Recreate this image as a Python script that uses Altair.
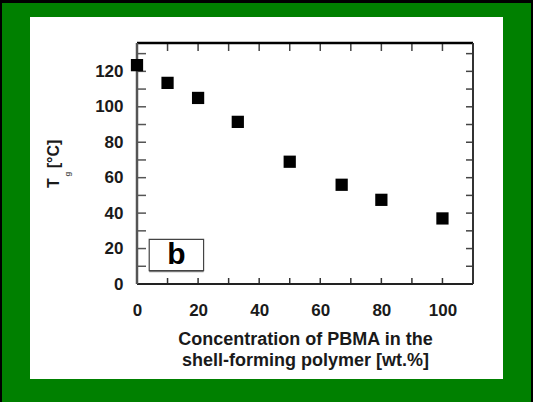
import altair as alt
import pandas as pd

# data
pbma = [0, 10, 20, 33, 50, 67, 80, 100]
tg = [123.5, 113.5, 105, 91.5, 69, 56, 47.5, 37]

x_ticks = [10, 20, 30, 40, 50, 60, 70, 80, 90, 100]
y_ticks = [10, 20, 30, 40, 50, 60, 70, 80, 90, 100, 110, 120, 130]
x_labels = [0, 20, 40, 60, 80, 100]
y_labels = [0, 20, 40, 60, 80, 100, 120]

box_x = [4.0]
box_x2 = [21.8]
box_y = [25.2]
box_y2 = [7.5]

W, H = 336, 241
FONT = "Liberation Sans"

pts = pd.DataFrame({"x": pbma, "y": tg})
xt = pd.DataFrame({"x": x_ticks})
yt = pd.DataFrame({"y": y_ticks})
box = pd.DataFrame({"x": box_x, "x2": box_x2, "y": box_y, "y2": box_y2})
one = pd.DataFrame({"a": [0]})

xs = alt.Scale(domain=[0, 110], nice=False, zero=False)
ys = alt.Scale(domain=[0, 136], nice=False, zero=False)

xaxis = alt.Axis(values=x_labels, ticks=False, tickSize=0, domain=False, grid=False,
                 labelFont=FONT, labelFontSize=17, labelFontWeight="bold", labelColor="#1a1a1a",
                 labelPadding=18, labelFlush=False, zindex=1,
                 title=["Concentration of PBMA in the", "shell-forming polymer [wt.%]"],
                 titleFont=FONT, titleFontSize=18, titleFontWeight="bold", titleColor="#1a1a1a",
                 titleLineHeight=21, titlePadding=12)
yaxis = alt.Axis(values=y_labels, ticks=False, tickSize=0, domain=False, grid=False,
                 labelFont=FONT, labelFontSize=17, labelFontWeight="bold", labelColor="#1a1a1a",
                 labelPadding=14, labelFlush=False, zindex=1, title=None)

# panel decoration: white card + black edge of the figure
white = alt.Chart(one).mark_rect(color="white").encode(
    x=alt.value(-107), x2=alt.value(366), y=alt.value(-26), y2=alt.value(336))
edge_l = alt.Chart(one).mark_rect(color="black").encode(
    x=alt.value(-137), x2=alt.value(-135), y=alt.value(-43), y2=alt.value(359))
edge_t = alt.Chart(one).mark_rect(color="black").encode(
    x=alt.value(-137), x2=alt.value(396), y=alt.value(-43), y2=alt.value(-40))
edge_r = alt.Chart(one).mark_rect(color="black").encode(
    x=alt.value(394), x2=alt.value(396), y=alt.value(-43), y2=alt.value(359))

points = alt.Chart(pts).mark_square(size=150, color="black", opacity=1).encode(
    x=alt.X("x:Q", scale=xs, axis=xaxis),
    y=alt.Y("y:Q", scale=ys, axis=yaxis))

tb = alt.Chart(xt).mark_rule(color="#333", strokeWidth=1.5).encode(
    x=alt.X("x:Q", scale=xs), y=alt.value(H), y2=alt.value(H - 6))
tt = alt.Chart(xt).mark_rule(color="#444", strokeWidth=1.5).encode(
    x=alt.X("x:Q", scale=xs), y=alt.value(0), y2=alt.value(8))
tl = alt.Chart(yt).mark_rule(color="#555", strokeWidth=1.5).encode(
    y=alt.Y("y:Q", scale=ys), x=alt.value(0), x2=alt.value(9))
tr = alt.Chart(yt).mark_rule(color="#444", strokeWidth=1.5).encode(
    y=alt.Y("y:Q", scale=ys), x=alt.value(W), x2=alt.value(W - 7))

# frame
f_top = alt.Chart(one).mark_rule(color="black", strokeWidth=2.5).encode(
    x=alt.value(0), x2=alt.value(W), y=alt.value(0))
f_bot = alt.Chart(one).mark_rule(color="#222", strokeWidth=2).encode(
    x=alt.value(0), x2=alt.value(W), y=alt.value(H))
f_left = alt.Chart(one).mark_rule(color="#555", strokeWidth=2.5).encode(
    x=alt.value(0), y=alt.value(0), y2=alt.value(H))
f_right = alt.Chart(one).mark_rule(color="#333", strokeWidth=2).encode(
    x=alt.value(W), y=alt.value(0), y2=alt.value(H))

# "b" label box
bshadow = alt.Chart(box).mark_rule(color="#888", strokeWidth=3).encode(
    x=alt.X("x:Q", scale=xs), x2="x2:Q", y=alt.Y("y2:Q", scale=ys))
brect = alt.Chart(box).mark_rect(fill="white", stroke="#444", strokeWidth=1.2).encode(
    x=alt.X("x:Q", scale=xs), x2="x2:Q", y=alt.Y("y:Q", scale=ys), y2="y2:Q")
btext = alt.Chart(pd.DataFrame({"x": [12.9], "y": [16.4], "t": ["b"]})).mark_text(
    font=FONT, fontSize=30, fontWeight="bold", color="black", baseline="middle").encode(
    x=alt.X("x:Q", scale=xs), y=alt.Y("y:Q", scale=ys), text="t:N")

# y-axis title T_g [°C]
tT = alt.Chart(one).mark_text(font=FONT, fontSize=16, fontWeight="bold", angle=270,
                              color="#1a1a1a", baseline="middle", align="center",
                              text="T").encode(x=alt.value(-83), y=alt.value(140))
tg_sub = alt.Chart(one).mark_text(font=FONT, fontSize=8, fontWeight="bold", angle=270,
                                  color="#555", baseline="middle", align="center",
                                  text="g").encode(x=alt.value(-69), y=alt.value(131))
tC = alt.Chart(one).mark_text(font=FONT, fontSize=16, fontWeight="bold", angle=270,
                              color="#1a1a1a", baseline="middle", align="center",
                              text="[°C]").encode(x=alt.value(-83), y=alt.value(111))

chart = alt.layer(
    white, edge_l, edge_t, edge_r,
    bshadow, brect, btext,
    tb, tt, tl, tr,
    f_top, f_bot, f_left, f_right,
    points, tT, tg_sub, tC,
).properties(
    width=W, height=H,
    autosize=alt.AutoSizeParams(type="none"),
    padding={"left": 137, "top": 43, "right": 60, "bottom": 118},
    background="#008000",
).configure_view(stroke="transparent")

chart.save("out.html", embed_options={"renderer": "svg", "actions": False})
